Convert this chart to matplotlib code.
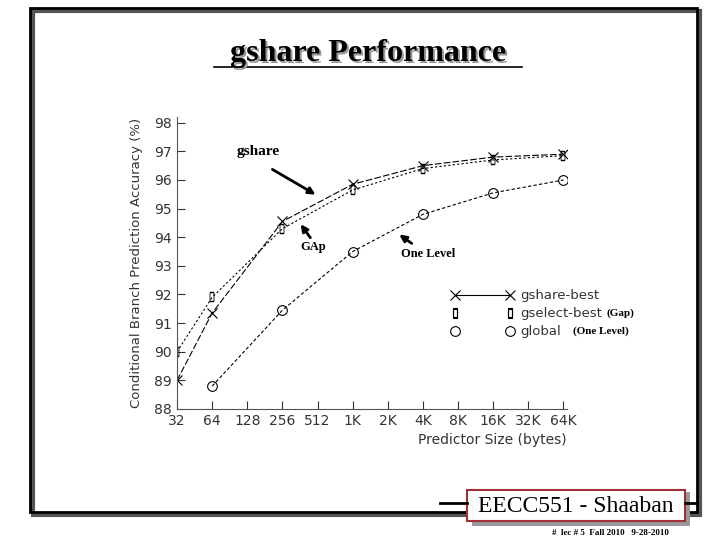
import matplotlib
matplotlib.use("Agg")
import matplotlib.pyplot as plt
from matplotlib.patches import Rectangle
from matplotlib.lines import Line2D

# Predictor sizes (category axis) and series
size_labels = ["32", "64", "128", "256", "512", "1K", "2K", "4K", "8K", "16K", "32K", "64K"]
pts_idx = [0, 1, 3, 5, 7, 9, 11]
gshare = [89.0, 91.35, 94.55, 95.85, 96.5, 96.8, 96.9]
gselect = [90.0, 91.9, 94.3, 95.65, 96.4, 96.7, 96.85]
glob_idx = [1, 3, 5, 7, 9, 11]
glob = [88.8, 91.45, 93.5, 94.8, 95.55, 96.0]
y_ticks = list(range(88, 99))

fig = plt.figure(figsize=(7.2, 5.4), dpi=100)
W, H = 720, 540

def fx(x): return x / W
def fy(y): return 1 - y / H

SERIF = "Liberation Serif"

# slide frame with shadow
fig.add_artist(Rectangle((fx(33), fy(515)), fx(667), fy(11) - fy(515),
                         fill=False, lw=3, ec="#555555"))
fig.add_artist(Rectangle((fx(30), fy(512)), fx(667), fy(8) - fy(512),
                         fill=False, lw=2, ec="black"))

# title with shadow
fig.text(fx(370), fy(55), "gshare Performance", ha="center", va="center",
         family=SERIF, fontsize=23, fontweight="bold", color="#999999")
fig.text(fx(368), fy(53), "gshare Performance", ha="center", va="center",
         family=SERIF, fontsize=23, fontweight="bold", color="black")
fig.add_artist(Line2D([fx(214), fx(522)], [fy(67), fy(67)], color="black", lw=1.2))

ax = fig.add_axes([fx(177), fy(409), fx(567) - fx(177), fy(117) - fy(409)])
ax.set_xlim(0, 11.1)
ax.set_ylim(88, 98.2)
for s in ("top", "right"):
    ax.spines[s].set_visible(False)
for s in ("left", "bottom"):
    ax.spines[s].set_color("#555555")
ax.set_xticks(range(len(size_labels)))
ax.set_xticklabels(size_labels)
ax.set_yticks(y_ticks)
ax.tick_params(direction="in", colors="#333333", labelsize=10, length=6)
ax.set_xlabel("Predictor Size (bytes)", color="#333333", fontsize=10, loc="right")
ax.set_ylabel("Conditional Branch Prediction Accuracy (%)", color="#333333",
              fontsize=9.5, labelpad=8)

ax.plot(pts_idx, gshare, color="black", lw=0.8, ls=(0, (6, 2)), marker="x",
        ms=7, mew=0.8)
ax.plot(pts_idx, gselect, color="black", lw=0.8, ls=(0, (2, 2)), marker="$\u25af$",
        ms=7, mew=0.3)
ax.plot(glob_idx, glob, color="black", lw=0.8, ls=(0, (3, 2)), marker="o",
        ms=7, mfc="none", mew=0.8)

# legend drawn by hand
leg = [("x", "gshare-best", "-"), ("$\u25af$", "gselect-best", "none"),
       ("o", "global", "none")]
for i, (m, lab, ls) in enumerate(leg):
    yy = 0.39 - i * 0.062
    ax.plot([0.713, 0.854], [yy, yy], transform=ax.transAxes, color="black", lw=0.8,
            ls=ls, marker=m, ms=7, mfc="none", mew=0.8, clip_on=False)
    ax.text(0.88, yy, lab, transform=ax.transAxes, va="center", fontsize=9.5,
            color="#333333")

serif = dict(family=SERIF, fontweight="bold", fontsize=9)
fig.text(fx(620), fy(313), "(Gap)", ha="center", va="center",
         **{**serif, "fontsize": 8})
fig.text(fx(601), fy(331), "(One Level)", ha="center", va="center",
         **{**serif, "fontsize": 8})

arrow = dict(arrowstyle="-|>", color="black", lw=2, mutation_scale=10)
fig.text(fx(258), fy(152), "gshare", ha="center", va="center", **{**serif, "fontsize": 11})
ax.annotate("", xy=(fx(318), fy(196)), xycoords="figure fraction",
            xytext=(fx(270), fy(168)), textcoords="figure fraction", arrowprops=arrow)
fig.text(fx(313), fy(247), "GAp", ha="center", va="center", **serif)
ax.annotate("", xy=(fx(299), fy(222)), xycoords="figure fraction",
            xytext=(fx(312), fy(240)), textcoords="figure fraction", arrowprops=arrow)
fig.text(fx(428), fy(254), "One Level", ha="center", va="center", **serif)
ax.annotate("", xy=(fx(397), fy(233)), xycoords="figure fraction",
            xytext=(fx(414), fy(245)), textcoords="figure fraction", arrowprops=arrow)

# footer box
fig.add_artist(Rectangle((fx(472), fy(526)), fx(218), fy(492) - fy(526),
                         fc="#999999", ec="none"))
fig.add_artist(Rectangle((fx(467), fy(521)), fx(218), fy(490) - fy(521),
                         fc="white", ec="#a0303a", lw=1.5))
fig.add_artist(Line2D([fx(440), fx(467)], [fy(503), fy(503)], color="black", lw=2))
fig.add_artist(Line2D([fx(685), fx(697)], [fy(503), fy(503)], color="black", lw=2))
fig.text(fx(576), fy(506), "EECC551 - Shaaban", ha="center", va="center",
         family=SERIF, fontsize=17, color="black")
fig.text(fx(610), fy(533), "#  lec # 5  Fall 2010   9-28-2010", ha="center",
         va="center", family=SERIF, fontweight="bold", fontsize=6.5)

fig.savefig("out.png", dpi=100)
